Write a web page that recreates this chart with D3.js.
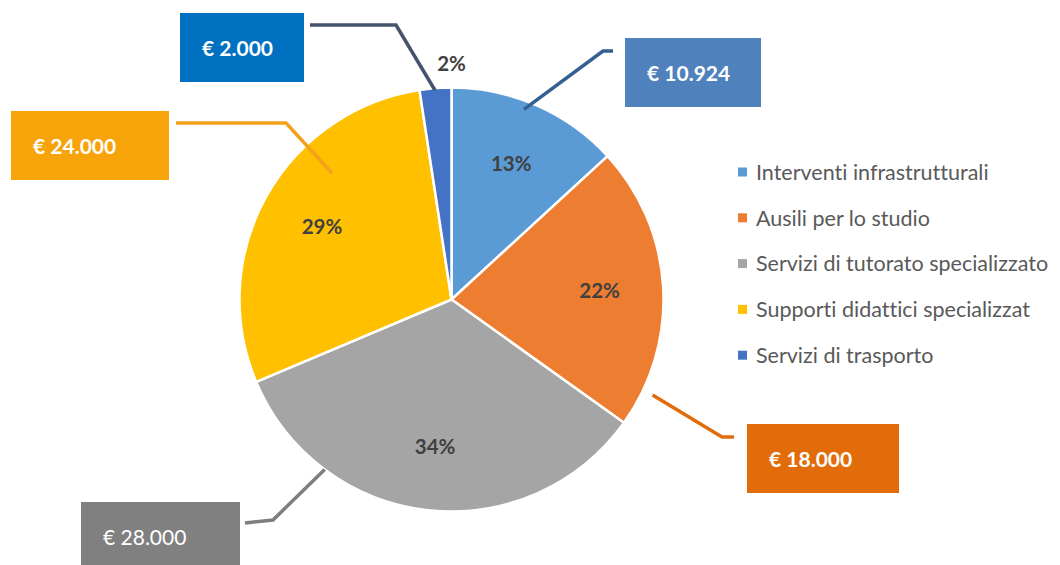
<!DOCTYPE html>
<html>
<meta charset="utf-8">
<head>
<title>Ripartizione fondi</title>
<style>
  body { margin: 0; background: #fff; }
  svg text { font-family: Lato, "Open Sans", sans-serif; font-variant-ligatures: none; font-feature-settings: "liga" 0, "clig" 0; }
</style>
</head>
<body>
<script src="https://cdn.jsdelivr.net/npm/d3@7"></script>
<script>

// data
var categories = ["Interventi infrastrutturali", "Ausili per lo studio", "Servizi di tutorato specializzato", "Supporti didattici specializzat", "Servizi di trasporto"];
var values = [10924, 18000, 28000, 24000, 2000];
var valueLabels = ["€ 10.924", "€ 18.000", "€ 28.000", "€ 24.000", "€ 2.000"];
var sliceColors = ["#5B9BD5", "#ED7D31", "#A5A5A5", "#FFC000", "#4472C4"];

// callout layout (box + elbow, tip = position inside the slice: t along angle, k radius factor)
var callouts = [
  {box: [625, 38, 136, 69], elbow: [[613, 51], [603, 51]], t: 0.44, k: 0.96, fill: "#4F81BD", line: "#335F93", bold: true},
  {box: [747, 424, 152, 69], elbow: [[734, 437], [722, 437]], t: 0.87, k: 1.05, fill: "#E36C0A", line: "#E36C0A", bold: true},
  {box: [81, 502, 159, 69], elbow: [[245, 523], [273, 520]], t: 0.75, k: 1.0, fill: "#808080", line: "#7F7F7F", bold: false},
  {box: [11, 111, 158, 69], elbow: [[176, 123], [286, 123]], t: 0.667, k: 0.82, fill: "#F7A30A", line: "#F3A11B", bold: true},
  {box: [180, 13, 124, 69], elbow: [[310, 25], [396, 25]], t: 0.48, k: 0.99, fill: "#0070C0", line: "#44546A", bold: true}
];

var width = 1060, height = 565;
var cx = 451.5, cy = 299.5, radius = 212;

var svg = d3.select("body").append("svg")
  .attr("width", width)
  .attr("height", height);

var total = d3.sum(values);
var pie = d3.pie().sort(null).value(function(d) { return d; });
var arcs = pie(values);

var arc = d3.arc().innerRadius(0).outerRadius(radius);
var labelArc = d3.arc().innerRadius(radius * 0.7).outerRadius(radius * 0.7);

var g = svg.append("g").attr("transform", "translate(" + cx + "," + cy + ")");

g.selectAll("path.slice")
  .data(arcs)
  .enter().append("path")
  .attr("class", "slice")
  .attr("d", arc)
  .style("fill", function(d, i) { return sliceColors[i]; })
  .style("stroke", "#fff")
  .style("stroke-width", 2.5);

// leader lines
function tipPoint(d, c) {
  var a = d.startAngle + (d.endAngle - d.startAngle) * c.t;
  var r = radius * c.k;
  return [cx + r * Math.sin(a), cy - r * Math.cos(a)];
}

svg.selectAll("path.leader")
  .data(arcs)
  .enter().append("path")
  .attr("class", "leader")
  .attr("d", function(d, i) {
    var c = callouts[i];
    return d3.line()([c.elbow[0], c.elbow[1], tipPoint(d, c)]);
  })
  .style("fill", "none")
  .style("stroke", function(d, i) { return callouts[i].line; })
  .style("stroke-width", 3.5);

// percent labels
g.selectAll("text.pct")
  .data(arcs)
  .enter().append("text")
  .attr("class", "pct")
  .attr("transform", function(d, i) {
    var p = labelArc.centroid(d);
    if (i == 4) p = [0, -(radius + 24)];
    return "translate(" + p + ")";
  })
  .attr("text-anchor", "middle")
  .attr("dy", "0.36em")
  .style("font-size", "20.5px")
  .style("font-weight", "bold")
  .style("fill", "#404040")
  .text(function(d) { return Math.round(d.value / total * 100) + "%"; });

// value boxes
var boxes = svg.selectAll("g.callout")
  .data(callouts)
  .enter().append("g")
  .attr("class", "callout");

boxes.append("rect")
  .attr("x", function(c) { return c.box[0]; })
  .attr("y", function(c) { return c.box[1]; })
  .attr("width", function(c) { return c.box[2]; })
  .attr("height", function(c) { return c.box[3]; })
  .style("fill", function(c) { return c.fill; });

boxes.append("text")
  .attr("x", function(c) { return c.box[0] + 22; })
  .attr("y", function(c) { return c.box[1] + 35; })
  .attr("dy", "0.36em")
  .style("font-size", "21px")
  .style("font-weight", function(c) { return c.bold ? "bold" : "normal"; })
  .style("fill", "#fff")
  .text(function(c, i) { return valueLabels[i]; });

// legend
var legend = svg.selectAll(".legend")
  .data(categories)
  .enter().append("g")
  .attr("class", "legend")
  .attr("transform", function(d, i) { return "translate(738," + (172 + i * 45.8) + ")"; });

legend.append("rect")
  .attr("x", 0)
  .attr("y", -4.5)
  .attr("width", 9)
  .attr("height", 9)
  .style("fill", function(d, i) { return sliceColors[i]; });

legend.append("text")
  .attr("x", 18)
  .attr("y", 0)
  .attr("dy", "0.36em")
  .style("font-size", "21.5px")
  .style("fill", "#595959")
  .text(function(d) { return d; });

</script>
</body>
</html>
